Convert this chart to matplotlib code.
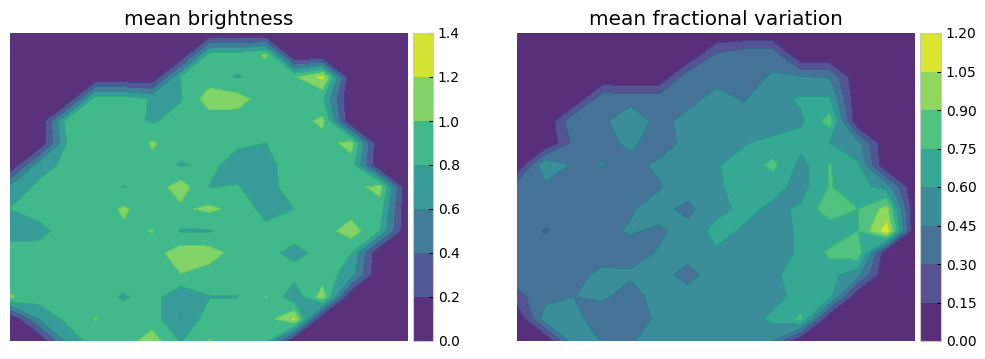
import numpy as np
import matplotlib
matplotlib.use('Agg')
import matplotlib.pyplot as plt
from matplotlib.ticker import FormatStrFormatter

titles = ['mean brightness', 'mean fractional variation']
levels_b = [0.0, 0.2, 0.4, 0.6, 0.8, 1.0, 1.2, 1.4]
levels_f = [0.0, 0.15, 0.30, 0.45, 0.60, 0.75, 0.90, 1.05, 1.20]

# values, row 0 is the top of the panel
brightness = [
    [0, 0, 0, 0, 0, 0, 0, 0, 0, 0, 0, 0, 0, 0, 0],
    [0, 0, 0, 0, 0, 0, 0, .88, .9, 1.02, 0, 0, 0, 0, 0],
    [0, 0, 0, 0, 0, 0, .8, .9, .78, .9, .97, 1.25, 0, 0, 0],
    [0, 0, 0, .9, .9, .78, .78, 1.1, 1.08, .9, .9, .82, 0, 0, 0],
    [0, 0, .87, .9, .9, .77, .9, .9, .9, .9, .9, 1.05, 0, 0, 0],
    [0, 0, .8, .9, .801, 1.02, .9, .9, .83, .799, .9, .9, 1.08, 0, 0],
    [0, .7, .85, .9, .9, .95, .775, .85, .72, .72, .92, .9, .9, 0, 0],
    [.65, .85, .9, .9, .79, .87, 1.1, .795, .81, .72, .9, .9, .9, 1.08, 0],
    [.8, .9, .9, .9, 1.025, .9, .96, 1.04, .94, .72, .8, .9, .9, .9, 0],
    [.7, .72, .9, .9, .97, 1.005, .78, .78, .9, .86, .87, .9, 1.1, .8, 0],
    [.9, .9, .9, .9, .9, .9, 1.12, 1.1, .9, .85, .75, .85, .8, 0, 0],
    [.9, .9, .9, .9, .9, .9, .99, .9, .9, .9, .87, .9, .7, 0, 0],
    [1.02, .9, .9, .9, .775, .9, .61, .79, .795, 1.003, .65, 1.1, 0, 0, 0],
    [0, .6, .85, 1.005, .9, .9, .598, .9, .9, .9, 1.22, 0, 0, 0, 0],
    [0, 0, .65, .9, .9, 1.1, .78, 1.01, .9, .85, 0, 0, 0, 0, 0],
]
fractional = [
    [0, 0, 0, 0, 0, 0, 0, 0, 0, 0, 0, 0, 0, 0, 0],
    [0, 0, 0, 0, 0, 0, 0, .33, .42, .42, 0, 0, 0, 0, 0],
    [0, 0, 0, 0, 0, 0, .41, .4, .42, .46, .455, .44, 0, 0, 0],
    [0, 0, 0, .42, .4, .4, .4, .5, .44, .56, .62, .62, 0, 0, 0],
    [0, 0, .452, .42, .55, .4, .5, .5, .5, .5, .58, .82, 0, 0, 0],
    [0, 0, .35, .42, .47, .4, .48, .5, .59, .65, .65, .6, .5, 0, 0],
    [0, .605, .42, .455, .42, .47, .5, .59, .65, .79, .55, .76, .62, 0, 0],
    [.41, .4, .38, .38, .38, .44, .52, .58, .65, .65, .55, .76, .65, .55, 0],
    [.38, .38, .38, .38, .44, .5, .41, .55, .64, .57, .62, .85, .75, .95, 0],
    [.38, .29, .38, .43, .46, .43, .5, .65, .58, .55, .62, .65, .75, 1.12, 0],
    [.38, .38, .38, .38, .41, .46, .5, .58, .55, .55, .62, .78, .85, 0, 0],
    [.38, .38, .4, .49, .465, .5, .4, .52, .52, .58, .65, .65, .5, 0, 0],
    [.25, .4, .449, .47, .4, .5, .52, .52, .52, .55, .65, .65, 0, 0, 0],
    [0, .54, .5, .36, .4, .47, .52, .52, .52, .64, .78, 0, 0, 0, 0],
    [0, 0, .55, .44, .44, .5, .5, .5, .5, .45, 0, 0, 0, 0, 0],
]

fig = plt.figure(figsize=(9.85, 3.59), dpi=100)
W, H = 985.0, 359.0


def draw_panel(data, levels, title, left, right, cleft, cright):
    ax = fig.add_axes([left / W, 1 - 341 / H, (right - left) / W, 308 / H])
    cax = fig.add_axes([cleft / W, 1 - 341 / H, (cright - cleft) / W, 308 / H])
    cs = ax.contourf(np.array(data), levels=levels, cmap='viridis', alpha=0.9)
    ax.invert_yaxis()
    ax.axis('off')
    ax.set_title(title, fontsize=14.4)
    cb = fig.colorbar(cs, cax=cax)
    cb.outline.set_edgecolor('#c8c8c8')
    cb.set_ticks(levels)
    cb.ax.tick_params(labelsize=10, direction='in', length=3, pad=3.5)
    return cb


draw_panel(brightness, levels_b, titles[0], 10, 408, 413, 433)
cb = draw_panel(fractional, levels_f, titles[1], 517, 915, 920, 941)
cb.ax.yaxis.set_major_formatter(FormatStrFormatter('%.2f'))

fig.savefig('out.png', dpi=100)
